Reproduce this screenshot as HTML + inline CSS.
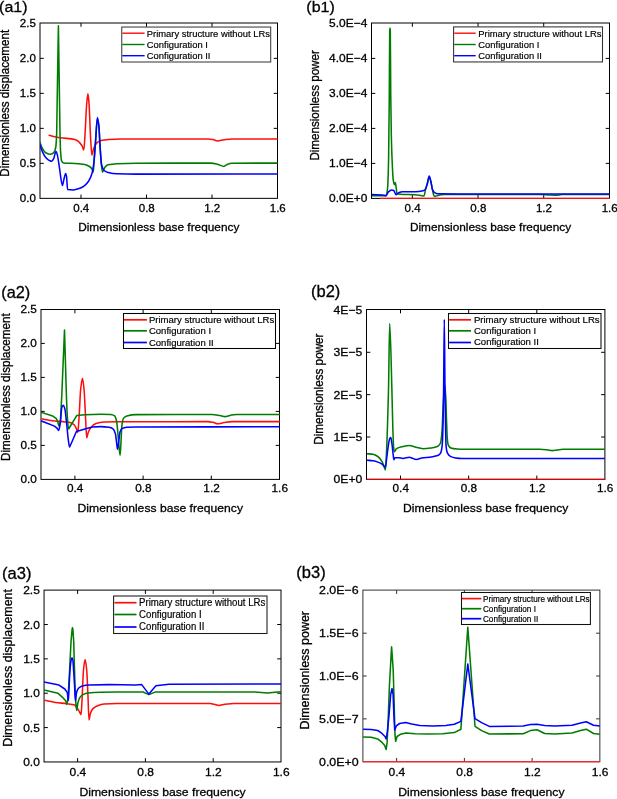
<!DOCTYPE html>
<html><head><meta charset="utf-8"><title>Figure</title>
<style>
html,body{margin:0;padding:0;background:#fff;}
svg{display:block;font-family:"Liberation Sans",sans-serif;fill:#000;will-change:transform;}
text{stroke:#000;stroke-width:0.3px;}
</style></head>
<body>
<svg width="617" height="799" viewBox="0 0 617 799">
<rect width="617" height="799" fill="#fff"/>
<clipPath id="ca1"><rect x="40.0" y="22.0" width="238.1" height="177.35"/></clipPath>
<path d="M81.00,198.35v-3.8M81.00,23.0v3.8M146.50,198.35v-3.8M146.50,23.0v3.8M212.00,198.35v-3.8M212.00,23.0v3.8M40.0,163.35h3.8M277.5,163.35h-3.8M40.0,128.35h3.8M277.5,128.35h-3.8M40.0,93.35h3.8M277.5,93.35h-3.8M40.0,58.35h3.8M277.5,58.35h-3.8" stroke="#000" stroke-width="1" fill="none"/>
<rect x="40.0" y="23.0" width="237.50" height="175.35" fill="none" stroke="#000" stroke-width="1.0"/>
<g clip-path="url(#ca1)">
<path d="M48.60,135.30C52.50,136.13 56.40,137.23 60.30,137.80C65.17,138.51 70.03,138.36 74.90,139.40C76.23,139.68 77.57,140.68 78.90,141.80C80.00,142.72 81.10,144.28 82.20,146.20C82.73,147.13 83.27,149.90 83.80,149.90C84.20,149.90 84.60,140.92 85.00,135.00C85.53,127.11 86.07,111.26 86.60,105.00C87.03,99.92 87.47,93.70 87.90,93.70C88.27,93.70 88.63,98.65 89.00,103.00C89.53,109.33 90.07,129.31 90.60,138.00C91.03,145.06 91.47,155.10 91.90,155.10C92.27,155.10 92.63,152.24 93.00,151.00C93.43,149.54 93.87,147.96 94.30,147.00C95.13,145.16 95.97,143.66 96.80,142.90C98.13,141.69 99.47,140.82 100.80,140.50C103.50,139.86 106.20,139.58 108.90,139.40C112.70,139.14 116.50,138.90 120.30,138.90C125.53,138.90 130.77,138.90 136.00,138.90C160.13,138.90 184.27,138.90 208.40,138.90C209.93,138.90 211.47,139.28 213.00,139.60C214.47,139.90 215.93,141.00 217.40,141.00C219.60,141.00 221.80,140.11 224.00,139.80C226.57,139.43 229.13,138.90 231.70,138.90C247.00,138.90 262.30,138.90 277.60,138.90" fill="none" stroke="#ff0d0d" stroke-width="1.55" stroke-linejoin="round"/>
<path d="M39.60,141.30C40.57,143.73 41.53,146.95 42.50,148.60C43.57,150.42 44.63,152.12 45.70,152.70C47.33,153.59 48.97,154.30 50.60,154.30C51.67,154.30 52.73,153.66 53.80,152.70C54.47,152.10 55.13,150.55 55.80,147.00C56.10,145.40 56.40,140.29 56.70,132.40L57.50,80.00L58.40,25.70L59.20,80.00L60.00,132.40C60.20,140.95 60.40,148.97 60.60,151.90C60.93,156.79 61.27,160.09 61.60,160.80C62.23,162.15 62.87,162.82 63.50,162.90C67.30,163.39 71.10,163.23 74.90,163.50C78.13,163.73 81.37,163.93 84.60,164.50C86.23,164.79 87.87,165.47 89.50,166.50C90.57,167.17 91.63,168.33 92.70,170.30C92.90,170.67 93.10,172.00 93.30,172.00C93.53,172.00 93.77,164.89 94.00,161.60C94.53,154.09 95.07,147.19 95.60,140.50C96.20,132.97 96.80,119.00 97.40,119.00C97.90,119.00 98.40,122.85 98.90,127.00C99.27,130.05 99.63,139.73 100.00,145.40C100.43,152.10 100.87,160.04 101.30,164.00C101.70,167.65 102.10,172.10 102.50,172.10C103.30,172.10 104.10,168.22 104.90,167.30C105.97,166.08 107.03,165.06 108.10,164.80C111.07,164.09 114.03,163.84 117.00,163.70C123.33,163.40 129.67,163.22 136.00,163.20C160.97,163.12 185.93,163.10 210.90,163.10C213.27,163.10 215.63,163.83 218.00,164.40C219.97,164.87 221.93,166.40 223.90,166.40C224.93,166.40 225.97,165.02 227.00,164.60C228.57,163.97 230.13,163.21 231.70,163.20C247.00,163.11 262.30,163.13 277.60,163.10" fill="none" stroke="#007c00" stroke-width="1.55" stroke-linejoin="round"/>
<path d="M39.60,143.80C40.57,146.50 41.53,149.81 42.50,151.90C43.57,154.20 44.63,156.31 45.70,157.50C47.07,159.03 48.43,160.29 49.80,160.80C50.43,161.04 51.07,161.30 51.70,161.30C52.40,161.30 53.10,159.79 53.80,158.30C54.23,157.38 54.67,154.61 55.10,153.50C55.43,152.65 55.77,151.50 56.10,151.50C56.53,151.50 56.97,153.49 57.40,155.10C58.10,157.70 58.80,163.84 59.50,168.10C60.47,173.98 61.43,185.40 62.40,185.40C62.90,185.40 63.40,181.22 63.90,179.40C64.50,177.21 65.10,173.40 65.70,173.40C65.97,173.40 66.23,174.79 66.50,176.20C66.87,178.14 67.23,189.53 67.60,189.60C69.50,189.94 71.40,190.00 73.30,190.00C75.47,190.00 77.63,189.09 79.80,188.30C81.40,187.72 83.00,186.81 84.60,185.60C85.97,184.57 87.33,183.08 88.70,181.00C89.77,179.37 90.83,177.29 91.90,173.70C92.60,171.34 93.30,167.31 94.00,161.60C94.53,157.25 95.07,147.42 95.60,140.50C96.20,132.71 96.80,117.50 97.40,117.50C97.90,117.50 98.40,121.53 98.90,125.90C99.27,129.11 99.63,140.06 100.00,145.40C100.53,153.17 101.07,162.65 101.60,164.80C102.43,168.17 103.27,169.81 104.10,170.50C105.43,171.60 106.77,172.08 108.10,172.40C111.07,173.11 114.03,173.58 117.00,173.70C123.33,173.96 129.67,174.10 136.00,174.10C183.20,174.10 230.40,174.03 277.60,174.00" fill="none" stroke="#0000ff" stroke-width="1.55" stroke-linejoin="round"/>
</g>
<rect x="121.75" y="27.05" width="148.95" height="34.95" fill="#fff" stroke="#3c3c3c" stroke-width="1.05"/>
<line x1="122.3" x2="144.6" y1="33.2" y2="33.2" stroke="#ff0d0d" stroke-width="1.4"/>
<text transform="translate(146.80,36.85) scale(1.0,1.04)" font-size="9.4" style="stroke-width:0.18px">Primary structure without LRs</text>
<line x1="122.3" x2="144.6" y1="44.5" y2="44.5" stroke="#007c00" stroke-width="1.4"/>
<text transform="translate(146.80,47.60) scale(1.0,1.04)" font-size="9.4" style="stroke-width:0.18px">Configuration I</text>
<line x1="122.3" x2="144.6" y1="55.7" y2="55.7" stroke="#0000ff" stroke-width="1.4"/>
<text transform="translate(146.80,58.80) scale(1.0,1.04)" font-size="9.4" style="stroke-width:0.18px">Configuration II</text>
<text transform="translate(81.25,211.50) scale(1.0,0.965)" font-size="11.55" text-anchor="middle">0.4</text>
<text transform="translate(146.75,211.50) scale(1.0,0.965)" font-size="11.55" text-anchor="middle">0.8</text>
<text transform="translate(212.25,211.50) scale(1.0,0.965)" font-size="11.55" text-anchor="middle">1.2</text>
<text transform="translate(277.75,211.50) scale(1.0,0.965)" font-size="11.55" text-anchor="middle">1.6</text>
<text transform="translate(35.80,202.20) scale(1,0.965)" font-size="11.55" text-anchor="end">0.0</text>
<text transform="translate(35.80,167.20) scale(1,0.965)" font-size="11.55" text-anchor="end">0.5</text>
<text transform="translate(35.80,132.20) scale(1,0.965)" font-size="11.55" text-anchor="end">1.0</text>
<text transform="translate(35.80,97.20) scale(1,0.965)" font-size="11.55" text-anchor="end">1.5</text>
<text transform="translate(35.80,62.20) scale(1,0.965)" font-size="11.55" text-anchor="end">2.0</text>
<text transform="translate(35.80,27.20) scale(1,0.965)" font-size="11.55" text-anchor="end">2.5</text>
<text transform="translate(158.75,230.70) scale(1.0,0.965)" font-size="11.85" text-anchor="middle">Dimensionless base frequency</text>
<text transform="translate(9.10,103.30) rotate(-90) scale(1.0,1.025)" font-size="11.6" text-anchor="middle">Dimensionless displacement</text>
<text transform="translate(-0.90,11.70) scale(1.0,0.965)" font-size="16">(a1)</text>
<clipPath id="cb1"><rect x="371.5" y="22.0" width="238.6" height="177.4"/></clipPath>
<path d="M412.35,198.4v-3.8M412.35,23.0v3.8M478.03,198.4v-3.8M478.03,23.0v3.8M543.71,198.4v-3.8M543.71,23.0v3.8M371.5,163.40h3.8M609.5,163.40h-3.8M371.5,128.40h3.8M609.5,128.40h-3.8M371.5,93.40h3.8M609.5,93.40h-3.8M371.5,58.40h3.8M609.5,58.40h-3.8" stroke="#000" stroke-width="1" fill="none"/>
<rect x="371.5" y="23.0" width="238.00" height="175.40" fill="none" stroke="#000" stroke-width="1.0"/>
<g clip-path="url(#cb1)">
<path d="M371.70,195.60C376.43,195.60 381.17,195.60 385.90,195.60C386.47,195.60 387.03,192.60 387.60,187.80C387.93,184.98 388.27,173.85 388.60,158.60C388.82,148.68 389.03,124.99 389.25,100.00C389.40,82.70 389.55,33.66 389.70,31.00C389.80,29.23 389.90,28.00 390.00,28.00C390.10,28.00 390.20,29.23 390.30,31.00C390.45,33.65 390.60,80.57 390.75,95.00C390.93,112.63 391.12,126.28 391.30,134.30C391.67,150.34 392.03,159.14 392.40,166.70C392.67,172.20 392.93,177.89 393.20,179.70C393.60,182.42 394.00,184.60 394.40,184.60C394.70,184.60 395.00,182.40 395.30,182.40C395.53,182.40 395.77,184.76 396.00,186.20C396.33,188.26 396.67,193.32 397.00,193.50C398.17,194.13 399.33,194.22 400.50,194.30C405.37,194.64 410.23,194.53 415.10,194.80C418.07,194.97 421.03,195.90 424.00,195.90C424.53,195.90 425.07,191.04 425.60,189.10C426.17,187.04 426.73,185.57 427.30,183.70C427.93,181.62 428.57,177.20 429.20,177.20C429.73,177.20 430.27,179.49 430.80,181.30C431.33,183.11 431.87,186.83 432.40,189.40C432.77,191.17 433.13,193.58 433.50,194.50C433.87,195.42 434.23,196.40 434.60,196.40C435.67,196.40 436.73,195.60 437.80,195.40C439.97,195.00 442.13,194.66 444.30,194.60C449.53,194.46 454.77,194.40 460.00,194.40C486.67,194.40 513.33,194.40 540.00,194.40C543.00,194.40 546.00,194.84 549.00,195.00C551.33,195.12 553.67,195.30 556.00,195.30C558.00,195.30 560.00,194.51 562.00,194.50C577.77,194.41 593.53,194.43 609.30,194.40" fill="none" stroke="#007c00" stroke-width="1.55" stroke-linejoin="round"/>
<path d="M371.70,194.60C376.17,194.87 380.63,194.80 385.10,195.40C385.40,195.44 385.70,195.80 386.00,195.80C386.80,195.80 387.60,192.52 388.40,191.80C389.47,190.84 390.53,189.90 391.60,189.90C392.30,189.90 393.00,190.16 393.70,190.50C394.47,190.87 395.23,194.60 396.00,194.60C396.97,194.60 397.93,193.08 398.90,192.70C399.97,192.28 401.03,191.80 402.10,191.80C406.43,191.80 410.77,191.80 415.10,191.80C417.80,191.80 420.50,191.39 423.20,190.70C424.00,190.49 424.80,190.02 425.60,189.10C426.17,188.45 426.73,185.70 427.30,183.70C427.93,181.46 428.57,176.10 429.20,176.10C429.73,176.10 430.27,179.19 430.80,181.30C431.33,183.41 431.87,188.13 432.40,189.40C433.13,191.15 433.87,192.27 434.60,192.70C435.67,193.32 436.73,193.79 437.80,193.80C445.20,193.89 452.60,193.90 460.00,193.90C509.77,193.90 559.53,193.90 609.30,193.90" fill="none" stroke="#0000ff" stroke-width="1.55" stroke-linejoin="round"/>
<path d="M379.80,198.40 L610.00,198.40" fill="none" stroke="#ff0d0d" stroke-width="1.3"/>
</g>
<rect x="453.6" y="26.9" width="148.90" height="35.05" fill="#fff" stroke="#303030" stroke-width="1.05"/>
<line x1="454.2" x2="475.7" y1="33.2" y2="33.2" stroke="#ff0d0d" stroke-width="1.4"/>
<text transform="translate(478.30,36.85) scale(1.0,1.04)" font-size="9.4" style="stroke-width:0.18px">Primary structure without LRs</text>
<line x1="454.2" x2="475.7" y1="44.5" y2="44.5" stroke="#007c00" stroke-width="1.4"/>
<text transform="translate(478.30,47.60) scale(1.0,1.04)" font-size="9.4" style="stroke-width:0.18px">Configuration I</text>
<line x1="454.2" x2="475.7" y1="55.7" y2="55.7" stroke="#0000ff" stroke-width="1.4"/>
<text transform="translate(478.30,58.80) scale(1.0,1.04)" font-size="9.4" style="stroke-width:0.18px">Configuration II</text>
<text transform="translate(412.60,211.50) scale(1.0,0.965)" font-size="11.55" text-anchor="middle">0.4</text>
<text transform="translate(478.28,211.50) scale(1.0,0.965)" font-size="11.55" text-anchor="middle">0.8</text>
<text transform="translate(543.96,211.50) scale(1.0,0.965)" font-size="11.55" text-anchor="middle">1.2</text>
<text transform="translate(609.64,211.50) scale(1.0,0.965)" font-size="11.55" text-anchor="middle">1.6</text>
<text transform="translate(367.30,202.25) scale(1.035,0.965)" font-size="11.55" text-anchor="end">0.0E+0</text>
<text transform="translate(367.30,167.25) scale(1.035,0.965)" font-size="11.55" text-anchor="end">1.0E−4</text>
<text transform="translate(367.30,132.25) scale(1.035,0.965)" font-size="11.55" text-anchor="end">2.0E−4</text>
<text transform="translate(367.30,97.25) scale(1.035,0.965)" font-size="11.55" text-anchor="end">3.0E−4</text>
<text transform="translate(367.30,62.25) scale(1.035,0.965)" font-size="11.55" text-anchor="end">4.0E−4</text>
<text transform="translate(367.30,27.25) scale(1.035,0.965)" font-size="11.55" text-anchor="end">5.0E−4</text>
<text transform="translate(490.50,230.70) scale(1.0,0.965)" font-size="11.85" text-anchor="middle">Dimensionless base frequency</text>
<text transform="translate(319.20,105.40) rotate(-90) scale(1.0,1.025)" font-size="11.63" text-anchor="middle">Dimensionless power</text>
<text transform="translate(306.30,11.90) scale(1.0,0.965)" font-size="16">(b1)</text>
<clipPath id="ca2"><rect x="41.0" y="308.5" width="239.1" height="171.89999999999998"/></clipPath>
<path d="M74.90,479.4v-3.8M74.90,309.5v3.8M143.10,479.4v-3.8M143.10,309.5v3.8M211.30,479.4v-3.8M211.30,309.5v3.8M41.0,445.40h3.8M279.5,445.40h-3.8M41.0,411.40h3.8M279.5,411.40h-3.8M41.0,377.40h3.8M279.5,377.40h-3.8M41.0,343.40h3.8M279.5,343.40h-3.8" stroke="#000" stroke-width="1" fill="none"/>
<rect x="41.0" y="309.5" width="238.50" height="169.90" fill="none" stroke="#000" stroke-width="1.0"/>
<g clip-path="url(#ca2)">
<path d="M41.20,418.80C44.87,419.47 48.53,420.37 52.20,420.80C56.53,421.31 60.87,421.42 65.20,421.90C67.07,422.11 68.93,422.24 70.80,422.70C71.90,422.97 73.00,423.75 74.10,424.80C74.90,425.56 75.70,427.17 76.50,428.90C76.93,429.84 77.37,432.50 77.80,432.50C78.27,432.50 78.73,421.86 79.20,415.00C79.67,408.14 80.13,394.38 80.60,390.00C81.23,384.05 81.87,378.30 82.50,378.30C83.03,378.30 83.57,384.31 84.10,390.00C84.53,394.63 84.97,406.34 85.40,414.30C85.83,422.26 86.27,437.80 86.70,437.80C87.20,437.80 87.70,433.73 88.20,432.50C89.17,430.12 90.13,428.38 91.10,427.30C92.73,425.47 94.37,423.99 96.00,423.50C98.70,422.69 101.40,422.22 104.10,422.10C108.40,421.91 112.70,421.80 117.00,421.80C123.33,421.80 129.67,421.80 136.00,421.80C160.00,421.80 184.00,421.60 208.00,421.60C209.67,421.60 211.33,421.97 213.00,422.30C214.50,422.60 216.00,423.80 217.50,423.80C219.67,423.80 221.83,422.93 224.00,422.60C226.67,422.20 229.33,421.60 232.00,421.60C247.97,421.60 263.93,421.60 279.90,421.60" fill="none" stroke="#ff0d0d" stroke-width="1.55" stroke-linejoin="round"/>
<path d="M41.00,412.30L52.60,415.90L56.00,418.30C56.63,419.00 57.27,420.44 57.90,422.20C58.23,423.13 58.57,426.10 58.90,426.10C59.33,426.10 59.77,424.32 60.20,422.00C60.57,420.04 60.93,411.15 61.30,404.70C61.47,401.77 61.63,398.49 61.80,395.00L64.50,330.00L66.40,395.00C66.67,402.42 66.93,410.48 67.20,414.50C67.67,421.54 68.13,429.00 68.60,429.00L76.90,415.40L84.70,414.70C90.07,414.48 95.43,414.30 100.80,414.30C104.07,414.30 107.33,414.39 110.60,414.60C111.93,414.68 113.27,415.05 114.60,415.90C115.23,416.30 115.87,418.19 116.50,420.80C116.93,422.58 117.37,427.70 117.80,432.10C118.20,436.17 118.60,442.90 119.00,446.70C119.37,450.18 119.73,455.30 120.10,455.30C120.37,455.30 120.63,447.79 120.90,443.50C121.23,438.14 121.57,428.24 121.90,425.70C122.43,421.64 122.97,419.16 123.50,418.40C124.60,416.84 125.70,416.19 126.80,415.90C129.87,415.08 132.93,414.62 136.00,414.60C161.33,414.43 186.67,414.40 212.00,414.40C214.67,414.40 217.33,415.14 220.00,415.60C221.67,415.89 223.33,416.60 225.00,416.60C226.67,416.60 228.33,415.73 230.00,415.40C232.00,415.00 234.00,414.40 236.00,414.40C250.63,414.40 265.27,414.40 279.90,414.40" fill="none" stroke="#007c00" stroke-width="1.55" stroke-linejoin="round"/>
<path d="M41.00,420.80L54.50,426.10L57.00,428.10C57.57,428.69 58.13,430.50 58.70,430.50C59.27,430.50 59.83,426.01 60.40,422.20C60.87,419.06 61.33,408.91 61.80,407.60C62.30,406.20 62.80,405.20 63.30,405.20C63.80,405.20 64.30,406.86 64.80,408.60C65.43,410.80 66.07,418.54 66.70,424.20C67.20,428.67 67.70,435.15 68.20,438.80C68.67,442.20 69.13,447.00 69.60,447.00L72.00,441.70L76.40,431.50L86.60,428.60L92.50,426.90C95.27,426.71 98.03,426.60 100.80,426.60C103.50,426.60 106.20,426.89 108.90,427.30C110.27,427.51 111.63,427.95 113.00,428.90C113.80,429.46 114.60,431.08 115.40,433.80C115.83,435.27 116.27,440.35 116.70,443.50C116.97,445.44 117.23,449.20 117.50,449.20C117.90,449.20 118.30,444.59 118.70,441.90C119.13,438.99 119.57,433.43 120.00,432.10C120.63,430.15 121.27,428.93 121.90,428.60C123.53,427.75 125.17,427.40 126.80,427.30C129.87,427.11 132.93,427.01 136.00,427.00C183.97,426.82 231.93,426.87 279.90,426.80" fill="none" stroke="#0000ff" stroke-width="1.55" stroke-linejoin="round"/>
</g>
<rect x="123.5" y="313.5" width="152.00" height="35.00" fill="#fff" stroke="#000" stroke-width="1.05"/>
<line x1="124" x2="146.9" y1="319.8" y2="319.8" stroke="#ff0d0d" stroke-width="1.7"/>
<text transform="translate(148.90,322.80) scale(1.0,1.04)" font-size="9.56" style="stroke-width:0.18px">Primary structure without LRs</text>
<line x1="124" x2="146.9" y1="330.8" y2="330.8" stroke="#007c00" stroke-width="1.7"/>
<text transform="translate(148.90,334.20) scale(1.0,1.04)" font-size="9.56" style="stroke-width:0.18px">Configuration I</text>
<line x1="124" x2="146.9" y1="342.5" y2="342.5" stroke="#0000ff" stroke-width="1.7"/>
<text transform="translate(148.90,345.50) scale(1.0,1.04)" font-size="9.56" style="stroke-width:0.18px">Configuration II</text>
<text transform="translate(75.15,492.15) scale(1.0,0.965)" font-size="11.8" text-anchor="middle">0.4</text>
<text transform="translate(143.35,492.15) scale(1.0,0.965)" font-size="11.8" text-anchor="middle">0.8</text>
<text transform="translate(211.55,492.15) scale(1.0,0.965)" font-size="11.8" text-anchor="middle">1.2</text>
<text transform="translate(279.75,492.15) scale(1.0,0.965)" font-size="11.8" text-anchor="middle">1.6</text>
<text transform="translate(36.80,483.33) scale(1,0.965)" font-size="11.8" text-anchor="end">0.0</text>
<text transform="translate(36.80,449.33) scale(1,0.965)" font-size="11.8" text-anchor="end">0.5</text>
<text transform="translate(36.80,415.33) scale(1,0.965)" font-size="11.8" text-anchor="end">1.0</text>
<text transform="translate(36.80,381.33) scale(1,0.965)" font-size="11.8" text-anchor="end">1.5</text>
<text transform="translate(36.80,347.33) scale(1,0.965)" font-size="11.8" text-anchor="end">2.0</text>
<text transform="translate(36.80,313.33) scale(1,0.965)" font-size="11.8" text-anchor="end">2.5</text>
<text transform="translate(160.25,512.20) scale(1.0,0.965)" font-size="12.16" text-anchor="middle">Dimensionless base frequency</text>
<text transform="translate(9.70,387.10) rotate(-90) scale(1.0,1.025)" font-size="11.67" text-anchor="middle">Dimensionless displacement</text>
<text transform="translate(1.30,298.00) scale(1.0,0.965)" font-size="16.3">(a2)</text>
<clipPath id="cb2"><rect x="366.5" y="308.5" width="238.99999999999997" height="171.85000000000002"/></clipPath>
<path d="M400.50,479.35v-3.8M400.50,309.5v3.8M468.66,479.35v-3.8M468.66,309.5v3.8M536.82,479.35v-3.8M536.82,309.5v3.8M366.5,437.00h3.8M604.9,437.00h-3.8M366.5,394.65h3.8M604.9,394.65h-3.8M366.5,352.30h3.8M604.9,352.30h-3.8" stroke="#000" stroke-width="1" fill="none"/>
<rect x="366.5" y="309.5" width="238.40" height="169.85" fill="none" stroke="#000" stroke-width="1.0"/>
<g clip-path="url(#cb2)">
<path d="M366.80,453.70C368.87,453.90 370.93,453.96 373.00,454.30C374.60,454.56 376.20,455.43 377.80,456.50C379.17,457.41 380.53,459.09 381.90,461.30C382.70,462.59 383.50,464.99 384.30,467.00C384.67,467.92 385.03,469.90 385.40,469.90C385.73,469.90 386.07,461.20 386.40,454.80C386.80,447.12 387.20,434.83 387.60,422.40C387.90,413.08 388.20,402.96 388.50,390.00C388.90,372.72 389.30,323.50 389.70,323.50C390.43,323.50 391.17,364.14 391.90,390.00C392.23,401.75 392.57,421.03 392.90,430.50C393.17,438.08 393.43,446.25 393.70,448.30C393.93,450.09 394.17,451.60 394.40,451.60C395.10,451.60 395.80,449.14 396.50,448.70C398.37,447.54 400.23,447.15 402.10,446.70C404.53,446.11 406.97,445.40 409.40,445.40C411.30,445.40 413.20,446.64 415.10,447.10C417.80,447.75 420.50,448.70 423.20,448.70C425.90,448.70 428.60,448.29 431.30,447.90C433.47,447.58 435.63,447.23 437.80,446.20C438.73,445.76 439.67,444.91 440.60,442.70C441.00,441.75 441.40,438.01 441.80,433.80C442.37,427.83 442.93,408.18 443.50,400.00C443.93,393.75 444.37,385.00 444.80,385.00C445.17,385.00 445.53,392.77 445.90,400.00C446.13,404.60 446.37,416.13 446.60,422.40C446.83,428.67 447.07,436.15 447.30,438.60C447.63,442.10 447.97,444.39 448.30,445.10C449.13,446.87 449.97,447.62 450.80,447.90C452.93,448.61 455.07,448.80 457.20,449.00C458.13,449.09 459.07,449.20 460.00,449.20C486.67,449.29 513.33,449.21 540.00,449.30C542.67,449.31 545.33,449.70 548.00,450.00C549.33,450.15 550.67,450.60 552.00,450.60C553.67,450.60 555.33,450.21 557.00,450.00C559.00,449.75 561.00,449.20 563.00,449.20C576.97,449.20 590.93,449.20 604.90,449.20" fill="none" stroke="#007c00" stroke-width="1.55" stroke-linejoin="round"/>
<path d="M366.80,460.20C368.87,460.40 370.93,460.50 373.00,460.80C374.87,461.07 376.73,461.69 378.60,462.40C379.97,462.92 381.33,463.56 382.70,464.60C383.40,465.13 384.10,467.00 384.80,467.00C385.07,467.00 385.33,466.65 385.60,466.20C385.97,465.58 386.33,460.85 386.70,458.10C387.27,453.85 387.83,448.49 388.40,445.10C388.83,442.50 389.27,439.31 389.70,438.60C390.07,438.00 390.43,437.50 390.80,437.50C391.17,437.50 391.53,441.06 391.90,443.50C392.33,446.39 392.77,451.48 393.20,454.80C393.43,456.59 393.67,459.70 393.90,459.70C394.20,459.70 394.50,457.70 394.80,457.70C396.17,457.70 397.53,457.70 398.90,457.70C400.23,457.70 401.57,458.40 402.90,458.40C405.07,458.40 407.23,457.30 409.40,457.30C410.23,457.30 411.07,457.84 411.90,458.10C413.33,458.55 414.77,459.40 416.20,459.40C418.00,459.40 419.80,458.40 421.60,458.10C424.83,457.55 428.07,457.40 431.30,456.90C433.47,456.56 435.63,456.37 437.80,455.60C438.73,455.27 439.67,454.66 440.60,453.20C441.13,452.36 441.67,449.90 442.20,445.10C442.50,442.40 442.80,433.77 443.10,422.40C443.27,416.08 443.43,402.99 443.60,390.00C443.83,371.81 444.07,319.40 444.30,319.40C444.53,319.40 444.77,371.81 445.00,390.00C445.17,402.99 445.33,413.50 445.50,422.40C445.67,431.30 445.83,443.25 446.00,445.10C446.50,450.65 447.00,452.19 447.50,453.20C448.33,454.88 449.17,455.63 450.00,456.10C451.87,457.15 453.73,457.76 455.60,458.00C457.73,458.27 459.87,458.50 462.00,458.50C509.63,458.50 557.27,458.50 604.90,458.50" fill="none" stroke="#0000ff" stroke-width="1.55" stroke-linejoin="round"/>
<path d="M366.50,479.35 L605.40,479.35" fill="none" stroke="#d80000" stroke-width="1.2"/>
</g>
<rect x="448.5" y="313.5" width="152.50" height="35.00" fill="#fff" stroke="#0a0a0a" stroke-width="1.05"/>
<line x1="449.1" x2="471.0" y1="319.8" y2="319.8" stroke="#ff0d0d" stroke-width="1.7"/>
<text transform="translate(473.90,322.80) scale(1.0,1.04)" font-size="9.6" style="stroke-width:0.18px">Primary structure without LRs</text>
<line x1="449.1" x2="471.0" y1="330.8" y2="330.8" stroke="#007c00" stroke-width="1.7"/>
<text transform="translate(473.90,333.90) scale(1.0,1.04)" font-size="9.6" style="stroke-width:0.18px">Configuration I</text>
<line x1="449.1" x2="471.0" y1="342.5" y2="342.5" stroke="#0000ff" stroke-width="1.7"/>
<text transform="translate(473.90,345.40) scale(1.0,1.04)" font-size="9.6" style="stroke-width:0.18px">Configuration II</text>
<text transform="translate(400.75,492.15) scale(1.0,0.965)" font-size="11.8" text-anchor="middle">0.4</text>
<text transform="translate(468.91,492.15) scale(1.0,0.965)" font-size="11.8" text-anchor="middle">0.8</text>
<text transform="translate(537.07,492.15) scale(1.0,0.965)" font-size="11.8" text-anchor="middle">1.2</text>
<text transform="translate(605.23,492.15) scale(1.0,0.965)" font-size="11.8" text-anchor="middle">1.6</text>
<text transform="translate(362.30,483.28) scale(1.035,0.965)" font-size="11.8" text-anchor="end">0E+0</text>
<text transform="translate(362.30,440.93) scale(1.035,0.965)" font-size="11.8" text-anchor="end">1E−5</text>
<text transform="translate(362.30,398.58) scale(1.035,0.965)" font-size="11.8" text-anchor="end">2E−5</text>
<text transform="translate(362.30,356.23) scale(1.035,0.965)" font-size="11.8" text-anchor="end">3E−5</text>
<text transform="translate(362.30,313.88) scale(1.035,0.965)" font-size="11.8" text-anchor="end">4E−5</text>
<text transform="translate(485.70,512.20) scale(1.0,0.965)" font-size="12.16" text-anchor="middle">Dimensionless base frequency</text>
<text transform="translate(323.20,389.10) rotate(-90) scale(1.0,1.025)" font-size="11.71" text-anchor="middle">Dimensionless power</text>
<text transform="translate(311.00,296.90) scale(1.0,0.965)" font-size="16.5">(b2)</text>
<clipPath id="ca3"><rect x="44.05" y="589.1" width="237.54999999999998" height="173.85000000000002"/></clipPath>
<path d="M77.60,761.95v-3.8M77.60,590.1v3.8M145.40,761.95v-3.8M145.40,590.1v3.8M213.20,761.95v-3.8M213.20,590.1v3.8M44.05,727.59h3.8M281.0,727.59h-3.8M44.05,693.23h3.8M281.0,693.23h-3.8M44.05,658.87h3.8M281.0,658.87h-3.8M44.05,624.51h3.8M281.0,624.51h-3.8" stroke="#000" stroke-width="1" fill="none"/>
<rect x="44.05" y="590.1" width="236.95" height="171.85" fill="none" stroke="#000" stroke-width="1.0"/>
<g clip-path="url(#ca3)">
<path d="M44.40,700.30C48.07,701.00 51.73,701.88 55.40,702.40C59.20,702.94 63.00,703.20 66.80,703.70C69.23,704.02 71.67,704.09 74.10,704.80C75.17,705.11 76.23,706.70 77.30,708.10C78.13,709.20 78.97,711.10 79.80,712.50C80.23,713.23 80.67,714.60 81.10,714.60C81.37,714.60 81.63,706.97 81.90,702.40C82.43,693.26 82.97,675.32 83.50,670.00C84.03,664.68 84.57,659.40 85.10,659.40C85.63,659.40 86.17,664.54 86.70,670.00C87.10,674.09 87.50,685.63 87.90,694.30C88.27,702.25 88.63,719.90 89.00,719.90C89.43,719.90 89.87,715.08 90.30,713.80C91.10,711.43 91.90,709.74 92.70,708.90C94.33,707.18 95.97,706.32 97.60,705.70C99.77,704.87 101.93,704.16 104.10,704.00C108.40,703.68 112.70,703.50 117.00,703.50C123.33,703.50 129.67,703.50 136.00,703.50L210.40,703.40L215.00,704.40L218.70,705.50L225.00,704.20L233.70,703.40L281.20,703.40" fill="none" stroke="#ff0d0d" stroke-width="1.55" stroke-linejoin="round"/>
<path d="M44.00,689.90L58.00,693.30L62.90,697.70L65.80,701.10C66.20,701.81 66.60,704.60 67.00,704.60C67.53,704.60 68.07,695.12 68.60,688.00C69.15,680.66 69.70,667.70 70.25,657.00L71.00,642.00L72.10,629.50C72.23,628.59 72.37,627.40 72.50,627.40C72.63,627.40 72.77,628.52 72.90,629.50L73.75,642.00L74.10,657.00C74.40,668.07 74.70,677.35 75.00,685.00C75.27,691.80 75.53,698.98 75.80,702.40C76.10,706.25 76.40,710.50 76.70,710.50C77.07,710.50 77.43,704.70 77.80,703.20C78.47,700.47 79.13,698.57 79.80,697.60C80.87,696.04 81.93,695.13 83.00,694.60C84.63,693.78 86.27,693.19 87.90,693.00C92.20,692.50 96.50,692.27 100.80,692.20C112.53,692.00 124.27,691.90 136.00,691.90L143.00,692.00L148.90,694.60L155.00,692.10L168.00,691.90L255.00,692.00L267.40,693.10L275.00,692.30L281.20,691.80" fill="none" stroke="#007c00" stroke-width="1.55" stroke-linejoin="round"/>
<path d="M44.00,681.90L59.00,685.10L64.80,689.00L67.20,692.40C67.43,693.02 67.67,695.20 67.90,697.00C68.03,698.03 68.17,700.60 68.30,700.60C68.50,700.60 68.70,694.54 68.90,691.10C69.27,684.80 69.63,674.43 70.00,670.00C70.37,665.57 70.73,661.82 71.10,660.30C71.40,659.05 71.70,657.80 72.00,657.80C72.30,657.80 72.60,658.87 72.90,660.30C73.13,661.41 73.37,666.53 73.60,670.00C73.93,674.96 74.27,680.47 74.60,686.20C74.87,690.79 75.13,700.80 75.40,700.80C75.77,700.80 76.13,694.03 76.50,692.70C77.17,690.28 77.83,688.89 78.50,688.20C79.73,686.93 80.97,686.20 82.20,685.90C84.63,685.31 87.07,684.98 89.50,684.90C95.97,684.70 102.43,684.60 108.90,684.60C117.93,684.60 126.97,684.90 136.00,684.90L141.70,684.60L148.90,694.10L155.90,685.80L168.90,684.30L281.20,684.00" fill="none" stroke="#0000ff" stroke-width="1.55" stroke-linejoin="round"/>
</g>
<rect x="113.6" y="596.0" width="153.40" height="37.50" fill="#fff" stroke="#1a1a1a" stroke-width="1.05"/>
<line x1="114.4" x2="136.5" y1="602.7" y2="602.7" stroke="#ff0d0d" stroke-width="1.7"/>
<text transform="translate(139.10,605.70) scale(1.0,1.04)" font-size="9.63" style="stroke-width:0.18px">Primary structure without LRs</text>
<line x1="114.4" x2="136.5" y1="614.5" y2="614.5" stroke="#007c00" stroke-width="1.7"/>
<text transform="translate(139.10,617.70) scale(1.0,1.04)" font-size="9.63" style="stroke-width:0.18px">Configuration I</text>
<line x1="114.4" x2="136.5" y1="627.0" y2="627.0" stroke="#0000ff" stroke-width="1.7"/>
<text transform="translate(139.10,630.00) scale(1.0,1.04)" font-size="9.63" style="stroke-width:0.18px">Configuration II</text>
<text transform="translate(77.85,775.70) scale(1.0,0.965)" font-size="12.0" text-anchor="middle">0.4</text>
<text transform="translate(145.65,775.70) scale(1.0,0.965)" font-size="12.0" text-anchor="middle">0.8</text>
<text transform="translate(213.45,775.70) scale(1.0,0.965)" font-size="12.0" text-anchor="middle">1.2</text>
<text transform="translate(281.25,775.70) scale(1.0,0.965)" font-size="12.0" text-anchor="middle">1.6</text>
<text transform="translate(39.85,765.95) scale(1,0.965)" font-size="12.0" text-anchor="end">0.0</text>
<text transform="translate(39.85,731.59) scale(1,0.965)" font-size="12.0" text-anchor="end">0.5</text>
<text transform="translate(39.85,697.23) scale(1,0.965)" font-size="12.0" text-anchor="end">1.0</text>
<text transform="translate(39.85,662.87) scale(1,0.965)" font-size="12.0" text-anchor="end">1.5</text>
<text transform="translate(39.85,628.51) scale(1,0.965)" font-size="12.0" text-anchor="end">2.0</text>
<text transform="translate(39.85,594.15) scale(1,0.965)" font-size="12.0" text-anchor="end">2.5</text>
<text transform="translate(162.53,795.70) scale(1.0,0.965)" font-size="12.23" text-anchor="middle">Dimensionless base frequency</text>
<text transform="translate(11.80,667.90) rotate(-90) scale(1.0,1.025)" font-size="12.46" text-anchor="middle">Dimensionless displacement</text>
<text transform="translate(2.10,578.50) scale(1.0,0.965)" font-size="16.6">(a3)</text>
<clipPath id="cb3"><rect x="362.9" y="589.1" width="237.55000000000004" height="173.60000000000002"/></clipPath>
<path d="M396.65,761.7v-3.8M396.65,590.1v3.8M464.38,761.7v-3.8M464.38,590.1v3.8M532.11,761.7v-3.8M532.11,590.1v3.8M362.9,718.87h3.8M599.85,718.87h-3.8M362.9,676.03h3.8M599.85,676.03h-3.8M362.9,633.20h3.8M599.85,633.20h-3.8" stroke="#333" stroke-width="1" fill="none"/>
<rect x="362.9" y="590.1" width="236.95" height="171.60" fill="none" stroke="#333" stroke-width="1.0"/>
<g clip-path="url(#cb3)">
<path d="M363.10,736.90L371.20,737.30L377.70,738.90L381.70,742.10L384.70,745.40L386.10,749.40L387.10,742.90L388.20,718.60L389.40,686.20L390.30,670.00L391.60,646.90L393.20,670.00L393.90,694.30L395.00,734.80L395.70,741.30L397.10,736.50L400.40,734.30L406.10,732.90L415.00,733.70L427.90,734.00L442.50,733.70L454.30,732.60L460.90,729.20L467.80,627.30L475.00,726.30L481.60,730.60L489.30,734.00L523.20,733.80L530.40,730.60L537.00,729.70L544.70,733.50L554.70,734.00L572.00,732.90L580.60,730.60L586.30,729.20L593.50,733.50L599.80,734.30" fill="none" stroke="#007c00" stroke-width="1.55" stroke-linejoin="round"/>
<path d="M363.10,729.20L371.20,729.50L377.70,730.50L381.70,733.20L385.00,736.50L386.10,738.90L387.40,731.60L389.00,715.40L390.70,694.30L392.00,688.60L393.10,694.30L393.90,715.40L394.70,730.30L396.30,725.90L399.60,723.50L405.60,722.40L411.70,724.00L419.80,725.60L432.80,725.90L445.80,725.60L454.30,724.30L460.90,721.40L467.80,664.00L475.00,718.60L481.60,722.60L489.30,726.40L523.20,726.00L530.40,724.60L537.00,724.30L544.70,725.40L554.70,726.00L572.00,725.20L580.60,722.90L586.30,721.70L593.50,725.20L599.80,726.00" fill="none" stroke="#0000ff" stroke-width="1.55" stroke-linejoin="round"/>
<path d="M362.90,761.75 L600.10,761.75" fill="none" stroke="#f42a2a" stroke-width="1.65"/>
</g>
<rect x="461.5" y="592.5" width="128.90" height="32.00" fill="#fff" stroke="#111" stroke-width="1.05"/>
<line x1="461.9" x2="481.3" y1="598.6" y2="598.6" stroke="#ff0d0d" stroke-width="1.7"/>
<text transform="translate(483.00,601.90) scale(1.0,1.04)" font-size="8.15" style="stroke-width:0.18px">Primary structure without LRs</text>
<line x1="461.9" x2="481.3" y1="608.7" y2="608.7" stroke="#007c00" stroke-width="1.7"/>
<text transform="translate(483.00,611.50) scale(1.0,1.04)" font-size="8.15" style="stroke-width:0.18px">Configuration I</text>
<line x1="461.9" x2="481.3" y1="618.7" y2="618.7" stroke="#0000ff" stroke-width="1.7"/>
<text transform="translate(483.00,621.50) scale(1.0,1.04)" font-size="8.15" style="stroke-width:0.18px">Configuration II</text>
<text transform="translate(396.90,775.70) scale(1.0,0.965)" font-size="12.0" text-anchor="middle">0.4</text>
<text transform="translate(464.63,775.70) scale(1.0,0.965)" font-size="12.0" text-anchor="middle">0.8</text>
<text transform="translate(532.36,775.70) scale(1.0,0.965)" font-size="12.0" text-anchor="middle">1.2</text>
<text transform="translate(600.10,775.70) scale(1.0,0.965)" font-size="12.0" text-anchor="middle">1.6</text>
<text transform="translate(358.70,765.70) scale(1.035,0.965)" font-size="12.0" text-anchor="end">0.0E+0</text>
<text transform="translate(358.70,722.86) scale(1.035,0.965)" font-size="12.0" text-anchor="end">5.0E−7</text>
<text transform="translate(358.70,680.03) scale(1.035,0.965)" font-size="12.0" text-anchor="end">1.0E−6</text>
<text transform="translate(358.70,637.19) scale(1.035,0.965)" font-size="12.0" text-anchor="end">1.5E−6</text>
<text transform="translate(358.70,594.36) scale(1.035,0.965)" font-size="12.0" text-anchor="end">2.0E−6</text>
<text transform="translate(481.38,795.70) scale(1.0,0.965)" font-size="12.23" text-anchor="middle">Dimensionless base frequency</text>
<text transform="translate(308.70,670.30) rotate(-90) scale(1.0,1.025)" font-size="12.5" text-anchor="middle">Dimensionless power</text>
<text transform="translate(296.30,578.10) scale(1.0,0.965)" font-size="16.5">(b3)</text>
</svg>
</body></html>
